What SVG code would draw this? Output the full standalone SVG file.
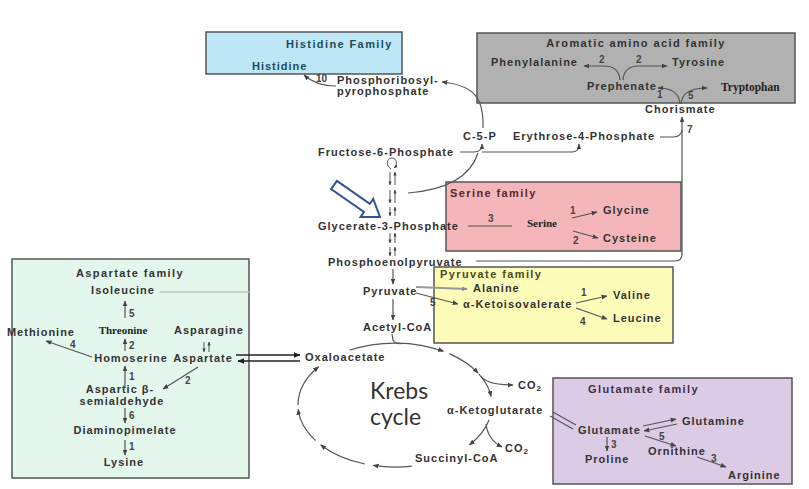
<svg xmlns="http://www.w3.org/2000/svg" width="809" height="489" viewBox="0 0 809 489">
<defs>
<style>
.t{font-family:"Liberation Sans",Arial,sans-serif;font-weight:bold;font-size:11px;letter-spacing:1px;fill:#333}
.ti{font-family:"Liberation Sans",Arial,sans-serif;font-weight:bold;font-size:11px;letter-spacing:1.4px;fill:#333}
.n{font-family:"Liberation Sans",Arial,sans-serif;font-weight:bold;font-size:10px;fill:#444}
.sf{font-family:"Liberation Serif","Times New Roman",serif;font-weight:bold;font-size:11px;fill:#222}
.kr{font-family:Lato,"Open Sans",sans-serif;font-size:23px;fill:#333}
.box{stroke:#555;stroke-width:1.5}
.c{fill:none;stroke:#555;stroke-width:1.2}
.ca{fill:none;stroke:#555;stroke-width:1.2;marker-end:url(#ah)}
.cs{fill:none;stroke:#555;stroke-width:1;marker-end:url(#as)}
.cg{fill:none;stroke:#999;stroke-width:2;marker-end:url(#ahg)}
.cb{fill:none;stroke:#222;stroke-width:1.5;marker-end:url(#ahb)}
</style>
<marker id="ah" viewBox="0 0 10 10" refX="9" refY="5" markerWidth="6" markerHeight="6" orient="auto" markerUnits="userSpaceOnUse"><path d="M0,1 L10,5 L0,9 z" fill="#444"/></marker>
<marker id="as" viewBox="0 0 10 10" refX="9" refY="5" markerWidth="4" markerHeight="4" orient="auto" markerUnits="userSpaceOnUse"><path d="M0,1 L10,5 L0,9 z" fill="#444"/></marker>
<marker id="ahg" viewBox="0 0 10 10" refX="9" refY="5" markerWidth="6" markerHeight="6" orient="auto" markerUnits="userSpaceOnUse"><path d="M0,1 L10,5 L0,9 z" fill="#888"/></marker>
<marker id="ahb" viewBox="0 0 10 10" refX="9" refY="5" markerWidth="7" markerHeight="7" orient="auto" markerUnits="userSpaceOnUse"><path d="M0,1 L10,5 L0,9 z" fill="#222"/></marker>
</defs>
<rect width="809" height="489" fill="#fff"/>

<!-- family boxes -->
<g id="histidine-family">
<rect class="box" x="206" y="32" width="196" height="42" fill="#bde7f7"/>
<text class="ti" x="286" y="48" style="fill:#1e4b5c">Histidine Family</text>
<text class="t" x="252" y="70" style="fill:#1e4b5c">Histidine</text>
</g>
<g id="aromatic-family">
<rect class="box" x="477" y="33" width="318" height="70" fill="#b1b1b1"/>
<text class="ti" x="636" y="47" text-anchor="middle">Aromatic amino acid family</text>
<text class="t" x="491" y="66">Phenylalanine</text>
<text class="t" x="672" y="66">Tyrosine</text>
<text class="t" x="587" y="90">Prephenate</text>
<text class="sf" x="721" y="91" style="font-size:11.5px">Tryptophan</text>
</g>
<g id="serine-family">
<rect class="box" x="446" y="182" width="235" height="69" fill="#f5b6ba"/>
<text class="ti" x="450" y="197" style="fill:#5a2626">Serine family</text>
<text class="sf" x="527" y="227">Serine</text>
<text class="t" x="603" y="214">Glycine</text>
<text class="t" x="603" y="242">Cysteine</text>
</g>
<g id="pyruvate-family">
<rect class="box" x="434" y="267" width="239" height="76" fill="#fdfcb8"/>
<text class="ti" x="440" y="278" style="fill:#4a4a1c">Pyruvate family</text>
<text class="t" x="473" y="292">Alanine</text>
<text class="t" x="463" y="308">α-Ketoisovalerate</text>
<text class="t" x="613" y="299">Valine</text>
<text class="t" x="613" y="322">Leucine</text>
</g>
<g id="aspartate-family">
<rect class="box" x="12" y="259" width="237" height="219" fill="#e4f7ed"/>
<text class="ti" x="130" y="277" text-anchor="middle">Aspartate family</text>
<text class="t" x="123" y="294" text-anchor="middle">Isoleucine</text>
<text class="sf" x="123" y="334" text-anchor="middle">Threonine</text>
<text class="t" x="75" y="336" text-anchor="end">Methionine</text>
<text class="t" x="209" y="334" text-anchor="middle">Asparagine</text>
<text class="t" x="131" y="362" text-anchor="middle">Homoserine</text>
<text class="t" x="203" y="362" text-anchor="middle">Aspartate</text>
<text class="t" x="120" y="393" text-anchor="middle">Aspartic β-</text>
<text class="t" x="122" y="405" text-anchor="middle">semialdehyde</text>
<text class="t" x="125" y="434" text-anchor="middle">Diaminopimelate</text>
<text class="t" x="124" y="466" text-anchor="middle">Lysine</text>
</g>
<g id="glutamate-family">
<rect class="box" x="553" y="378" width="239" height="106" fill="#dccbe5"/>
<text class="ti" x="588" y="393" style="fill:#3e3048">Glutamate family</text>
<text class="t" x="578" y="434">Glutamate</text>
<text class="t" x="682" y="425">Glutamine</text>
<text class="t" x="648" y="455">Ornithine</text>
<text class="t" x="728" y="479">Arginine</text>
<text class="t" x="585" y="463">Proline</text>
</g>

<!-- metabolite nodes -->
<g id="prpp"><text class="t" x="337" y="84">Phosphoribosyl-</text><text class="t" x="337" y="95">pyrophosphate</text></g>
<g id="c5p"><text class="t" x="463" y="140">C-5-P</text></g>
<g id="e4p"><text class="t" x="513" y="140">Erythrose-4-Phosphate</text></g>
<g id="chorismate"><text class="t" x="645" y="113">Chorismate</text></g>
<g id="f6p"><text class="t" x="318" y="156">Fructose-6-Phosphate</text></g>
<g id="g3p"><text class="t" x="318" y="230">Glycerate-3-Phosphate</text></g>
<g id="pep"><text class="t" x="328" y="266">Phosphoenolpyruvate</text></g>
<g id="pyruvate"><text class="t" x="363" y="295">Pyruvate</text></g>
<g id="acetylcoa"><text class="t" x="363" y="331">Acetyl-CoA</text></g>
<g id="oxaloacetate"><text class="t" x="305" y="361">Oxaloacetate</text></g>
<g id="akg"><text class="t" x="447" y="414">α-Ketoglutarate</text></g>
<g id="succinylcoa"><text class="t" x="415" y="462">Succinyl-CoA</text></g>
<g id="co2a"><text class="t" x="518" y="389">CO<tspan font-size="8" dy="2">2</tspan></text></g>
<g id="co2b"><text class="t" x="505" y="452">CO<tspan font-size="8" dy="2">2</tspan></text></g>
<g id="krebs"><text class="kr" x="370" y="399">Krebs</text><text class="kr" x="370" y="425">cycle</text></g>
<g id="pointer"><polygon points="336.9,180.9 369.8,203.8 373.2,198.9 380,217 360.6,216.9 364,212 331.1,189.1" fill="#fff" stroke="#2f5597" stroke-width="2"/></g>

<!-- connectors -->
<g id="connectors">
<path class="ca" d="M336,86 Q316,86 304,75"/>
<text class="n" x="316" y="82">10</text>
<path class="ca" d="M483,128 C484,98 474,85 442,82"/>
<path class="ca" d="M460,152 L474,152 Q482,152 482,144"/>
<path class="ca" d="M482,152 L572,152 Q579,152 579,144"/>
<path class="c" d="M408,193 C445,190 470,178 478,153"/>
<path class="c" d="M660,137 L673,137 Q681,137 682,130"/>
<path class="ca" d="M476,261 L675,261 Q682,261 682,254 L682,117"/>
<text class="n" x="687" y="133">7</text>
<path class="ca" d="M680,104 Q679,88 658,88"/>
<path class="ca" d="M681,104 Q682,88 707,88"/>
<text class="n" x="657" y="98">1</text>
<text class="n" x="688" y="99">5</text>
<path class="ca" d="M620,80 Q619,66 604,66 L584,66"/>
<path class="ca" d="M623,80 Q624,66 639,66 L667,66"/>
<text class="n" x="599" y="63">2</text>
<text class="n" x="636" y="63">2</text>
<path class="cs" d="M391,169 C386,166 386,158 392,158 C397,158 398,165 394,168"/>
<path class="cs" d="M390,172 L390,185"/><path class="cs" d="M395,185 L395,172"/>
<path class="cs" d="M390,190 L390,203"/><path class="cs" d="M395,203 L395,190"/>
<path class="cs" d="M390,207 L390,216"/><path class="cs" d="M395,216 L395,207"/>
<path class="cs" d="M390,233 L390,243"/><path class="cs" d="M395,243 L395,233"/>
<path class="cs" d="M390,247 L390,256"/><path class="cs" d="M395,256 L395,247"/>
<path class="ca" d="M393,269 L393,284"/>
<path class="ca" d="M393,299 L393,320"/>
<path class="c" d="M392,334 L393,340 Q395,344 402,343.5"/>
<path class="c" d="M468,226 L512,226"/>
<text class="n" x="488" y="222">3</text>
<path class="ca" d="M572,218 L597,212"/>
<text class="n" x="570" y="214">1</text>
<path class="ca" d="M573,231 L598,238"/>
<text class="n" x="573" y="244">2</text>
<path class="cg" d="M416,287 L467,289"/>
<path class="ca" d="M416,293 L458,304"/>
<text class="n" x="430" y="306">5</text>
<path class="ca" d="M576,303 L607,296"/>
<text class="n" x="581" y="296">1</text>
<path class="ca" d="M576,308 L607,319"/>
<text class="n" x="580" y="325">4</text>
<path d="M160,292 L249,292" stroke="#c4c4c4" stroke-width="1.5" fill="none"/>
<path class="ca" d="M125,318 L125,301"/><text class="n" x="129" y="317">5</text>
<path class="ca" d="M92,357 L46,341"/><text class="n" x="70" y="348">4</text>
<path class="ca" d="M125,351 L125,339"/><text class="n" x="129" y="349">2</text>
<path class="cs" d="M204,342 L204,352"/><path class="cs" d="M209,352 L209,342"/>
<path class="ca" d="M125,388 L125,366"/><text class="n" x="129" y="380">1</text>
<path class="ca" d="M198,367 L163,389"/><text class="n" x="185" y="384">2</text>
<path class="ca" d="M125,408 L125,423"/><text class="n" x="129" y="419">6</text>
<path class="ca" d="M125,440 L125,455"/><text class="n" x="129" y="450">1</text>
<path class="cb" d="M236,355 L300,355"/>
<path class="cb" d="M300,361 L238,361"/>
<path class="ca" d="M349.5,350.3 A97,62 0 0 1 443.5,351.3"/>
<path class="ca" d="M449.2,353.6 A97,62 0 0 1 478.1,373.1"/>
<path class="ca" d="M481.4,376.9 A97,62 0 0 1 491.1,396.4"/>
<path class="ca" d="M489.1,420 A97,62 0 0 1 469.3,444.9"/>
<path class="ca" d="M411.9,466.1 A97,62 0 0 1 373.2,465.4"/>
<path class="ca" d="M365,464 A97,62 0 0 1 320.7,444.9"/>
<path class="ca" d="M315.6,440.6 A97,62 0 0 1 298.2,409.3"/>
<path class="ca" d="M298,405 A97,62 0 0 1 318.6,366.8"/>
<path class="ca" d="M479,374 Q485,385 513,385"/>
<path class="ca" d="M486,424 Q488,440 502,447"/>
<path class="c" d="M553,412 L576,425"/>
<path class="c" d="M550,416 L573,429"/>
<path class="ca" d="M643,426 L676,419"/>
<path class="ca" d="M677,424 L644,431"/>
<path class="ca" d="M645,436 L676,446"/><text class="n" x="659" y="440">5</text>
<path class="ca" d="M697,457 L726,467"/><text class="n" x="711" y="462">3</text>
<path class="ca" d="M607,437 L607,451"/><text class="n" x="611" y="448">3</text>
</g>
</svg>
